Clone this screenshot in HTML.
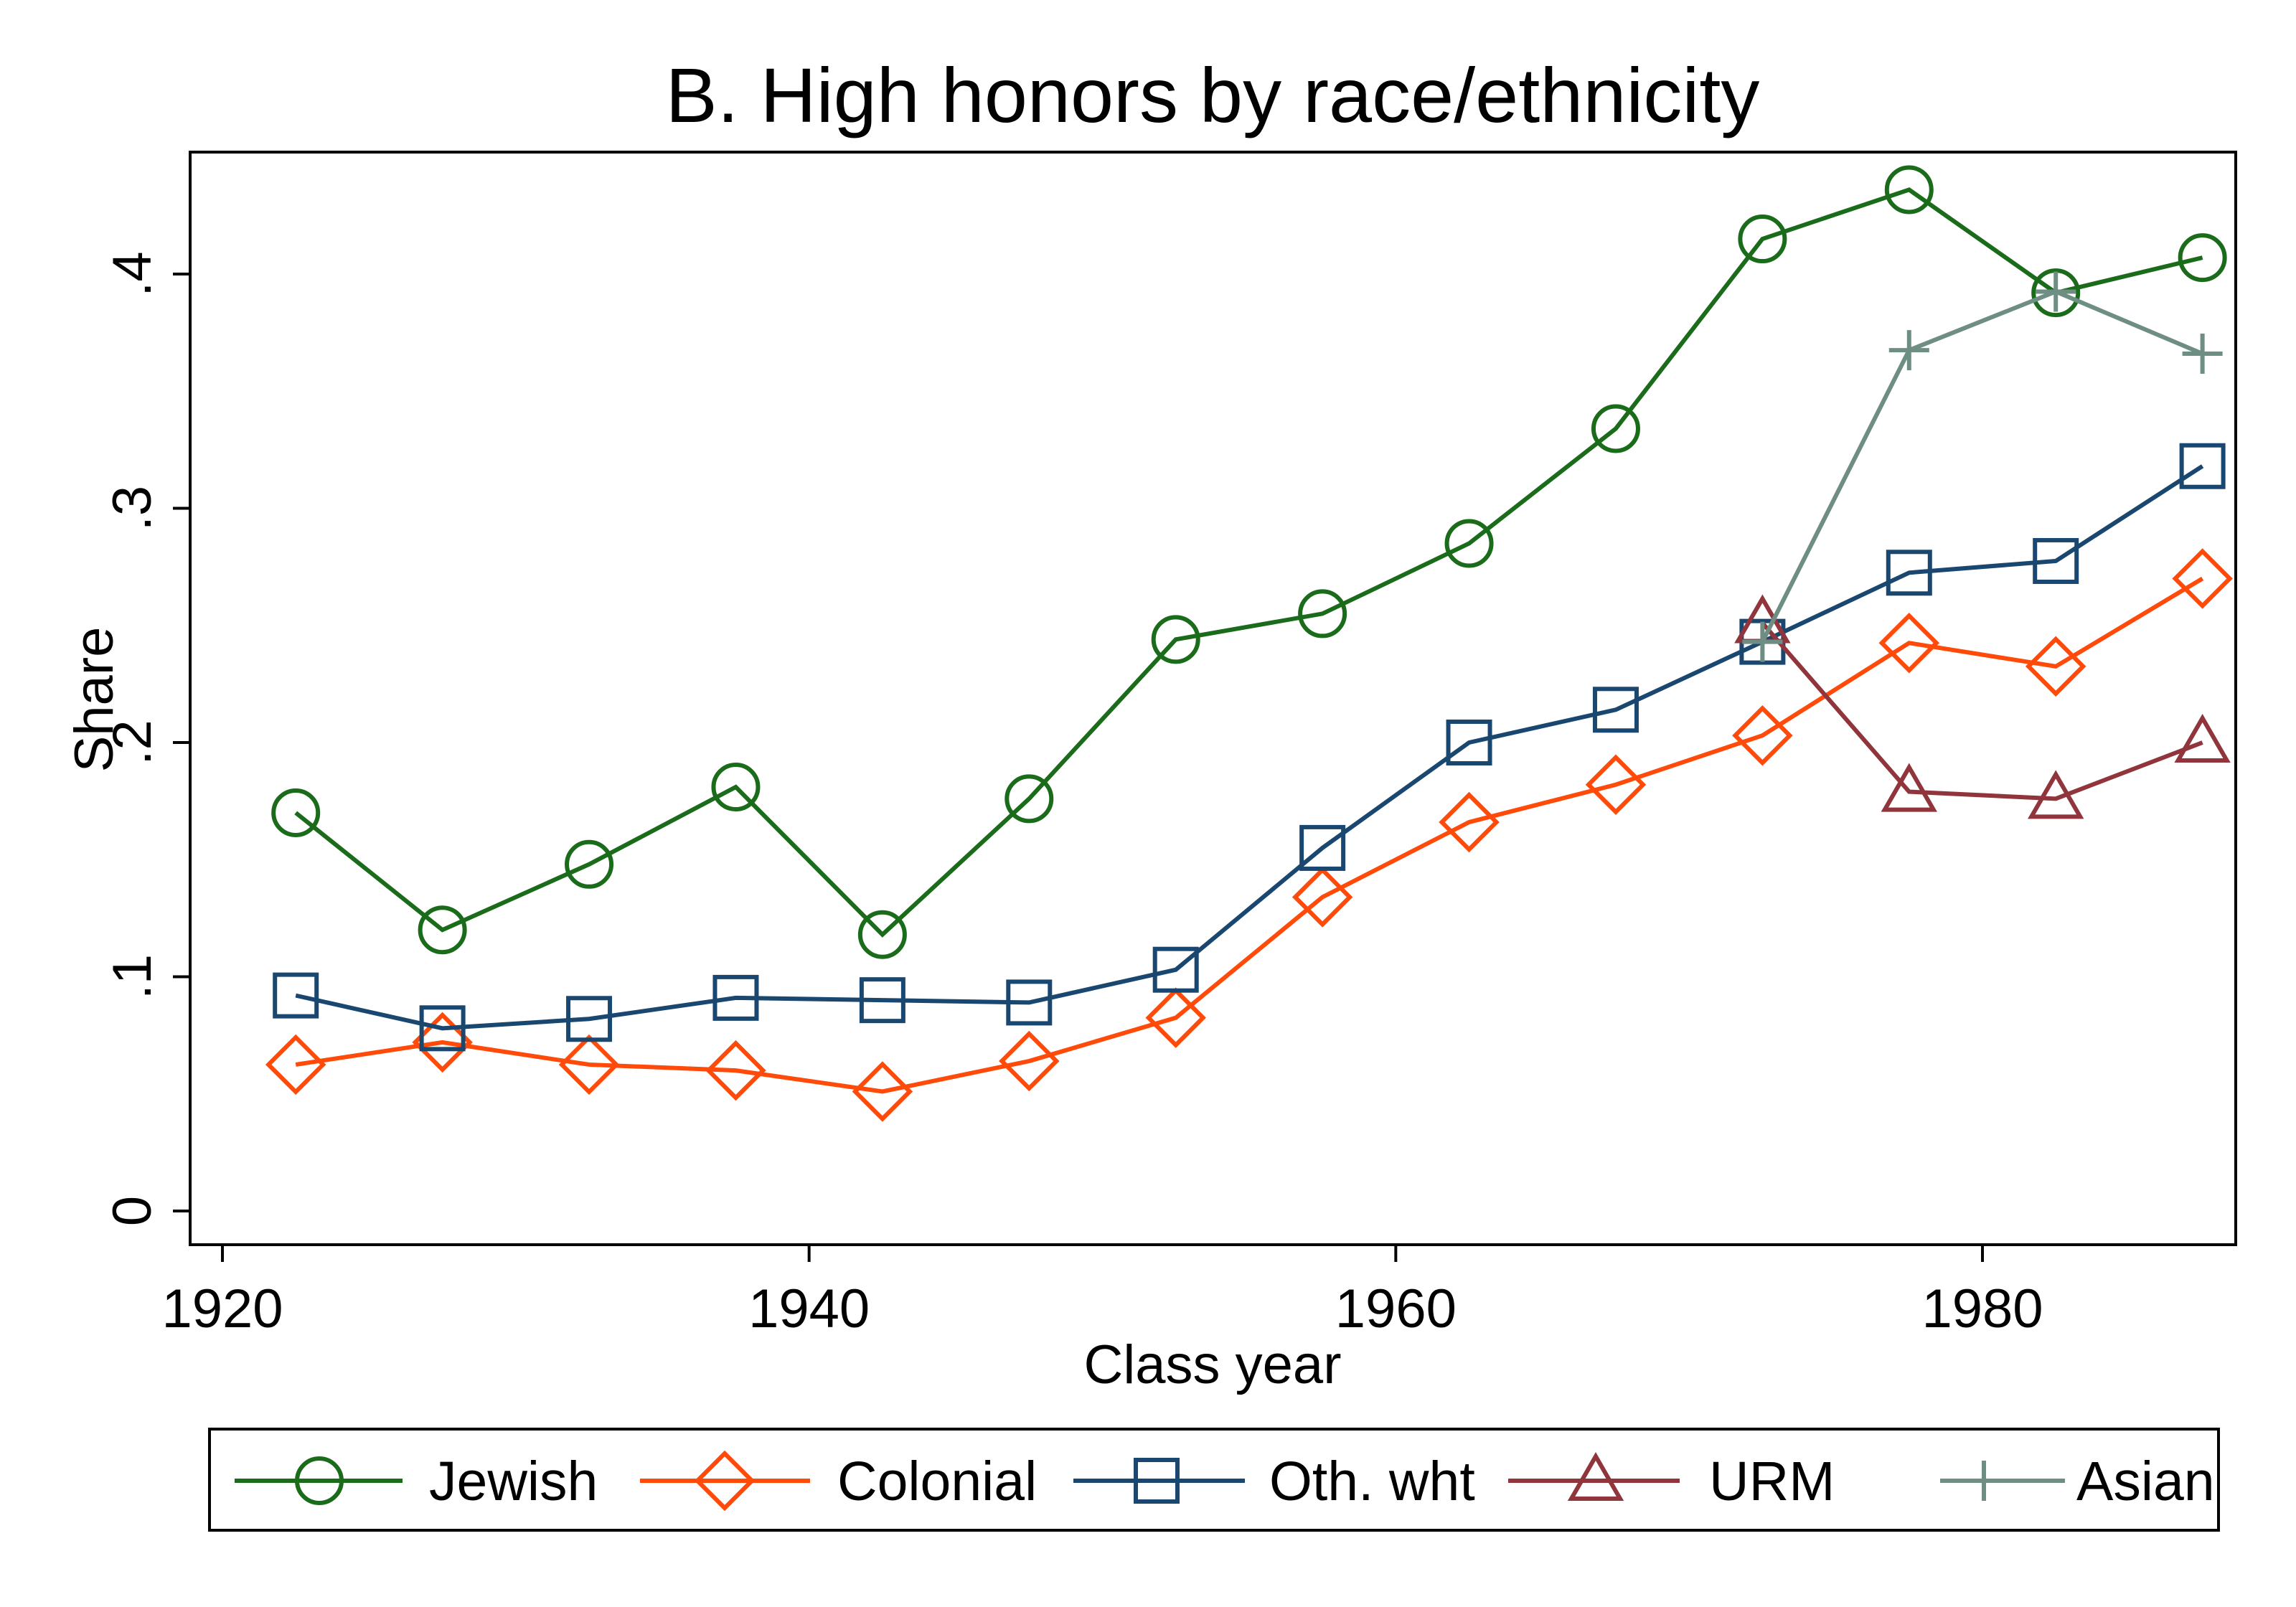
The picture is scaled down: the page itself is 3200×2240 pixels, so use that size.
<!DOCTYPE html>
<html><head><meta charset="utf-8">
<style>html,body{margin:0;padding:0;background:#fff}svg{display:block;font-family:"Liberation Sans",Arial,sans-serif}</style>
</head><body>
<svg id="chart" width="3200" height="2240" viewBox="0 0 3200 2240">
<rect width="3200" height="2240" fill="#fff"/>
<text x="1690" y="170" font-size="108" text-anchor="middle">B. High honors by race/ethnicity</text>
<rect x="265" y="212" width="2851" height="1523" fill="none" stroke="#000" stroke-width="4"/>
<g id="axes"></g>
<g id="series"></g>
<text x="1690" y="1928" font-size="76" text-anchor="middle">Class year</text>
<text transform="translate(157,975) rotate(-90)" font-size="76" text-anchor="middle">Share</text>
<rect x="292" y="1992" width="2800" height="141" fill="none" stroke="#000" stroke-width="4"/>
<g id="legend"></g>
</svg>
<script>
const years=[1922.5,1927.5,1932.5,1937.5,1942.5,1947.5,1952.5,1957.5,1962.5,1967.5,1972.5,1977.5,1982.5,1987.5];
const jewish=[.170,.120,.148,.181,.118,.176,.244,.255,.285,.334,.415,.436,.392,.407];
const colonial=[.0625,.072,.0625,.060,.051,.064,.0825,.134,.166,.182,.203,.2425,.2325,.270];
const othwht=[.092,.078,.082,.091,.090,.089,.103,.155,.200,.214,.243,.2725,.2775,.318];
const urmYears=[1972.5,1977.5,1982.5,1987.5];
const urm=[.251,.179,.176,.200];
const asianYears=[1972.5,1977.5,1982.5,1987.5];
const asian=[.243,.3675,.3925,.366];
const xTicks=[1920,1940,1960,1980];
const yTicks=[0,.1,.2,.3,.4];
const yTickLabels=["0",".1",".2",".3",".4"];
const seriesNames=["Jewish","Colonial","Oth. wht","URM","Asian"];

const NS="http://www.w3.org/2000/svg";
function X(v){return 310+(v-1920)*(2763-310)/60;}
function Y(v){return 1688-v*(1688-382)/0.4;}
function mk(tag,attrs,parent){const e=document.createElementNS(NS,tag);for(const k in attrs)e.setAttribute(k,attrs[k]);parent.appendChild(e);return e;}
const axes=document.getElementById('axes');
xTicks.forEach(t=>{
  const l=mk('line',{x1:X(t),x2:X(t),y1:1735,y2:1759,stroke:'#000','stroke-width':4},axes);
  
  
  const tx=mk('text',{x:X(t),y:1850,'font-size':76,'text-anchor':'middle'},axes);tx.textContent=t;
  
  
});
yTicks.forEach((t,i)=>{
  const l=mk('line',{x1:241,x2:265,y1:Y(t),y2:Y(t),stroke:'#000','stroke-width':4},axes);
  
  
  const tx=mk('text',{transform:`translate(210,${Y(t)}) rotate(-90)`,'font-size':76,'text-anchor':'middle'},axes);tx.textContent=yTickLabels[i];
  
  
});
function marker(type,x,y,color,parent){
  const r=31;let e;
  if(type==='circle')e=mk('circle',{cx:x,cy:y,r:r,fill:'none',stroke:color,'stroke-width':6},parent);
  else if(type==='diamond')e=mk('polygon',{points:`${x},${y-38} ${x+38},${y} ${x},${y+38} ${x-38},${y}`,fill:'none',stroke:color,'stroke-width':6},parent);
  else if(type==='square')e=mk('rect',{x:x-29,y:y-29,width:58,height:58,fill:'none',stroke:color,'stroke-width':6},parent);
  else if(type==='triangle')e=mk('polygon',{points:`${x},${y-34} ${x+34},${y+25} ${x-34},${y+25}`,fill:'none',stroke:color,'stroke-width':6},parent);
  else e=mk('path',{d:`M${x-28},${y}H${x+28}M${x},${y-28}V${y+28}`,fill:'none',stroke:color,'stroke-width':6},parent);
  return e;
}
const sg=document.getElementById('series');
const defs=[[years,jewish,'#1a6b1a','circle','series-jewish'],[years,colonial,'#ff4a0a','diamond','series-colonial'],[years,othwht,'#1a476f','square','series-oth-wht'],[urmYears,urm,'#90353b','triangle','series-urm'],[asianYears,asian,'#6e8e84','plus','series-asian']];
defs.forEach(([xs,ys,c,m,n])=>{
  const g=mk('g',{},sg);
  
  
  const p=mk('polyline',{points:xs.map((x,i)=>X(x)+','+Y(ys[i])).join(' '),fill:'none',stroke:c,'stroke-width':6},g);
  
  
  xs.forEach((x,i)=>{const e=marker(m,X(x),Y(ys[i]),c,g);
    
    });
});
const lg=document.getElementById('legend');
const lx=[[327,561,445,598],[892,1129,1010,1167],[1496,1735,1612,1769],[2102,2341,2224,2382],[2704,2878,2765,2894]];
defs.forEach(([xs,ys,c,m,n],i)=>{
  const g=mk('g',{},lg);
  
  
  const [a,b,cx,tx]=lx[i];const y=2064;
  mk('line',{x1:a,x2:b,y1:y,y2:y,stroke:c,'stroke-width':6},g);
  marker(m,cx,y,c,g);
  const t=mk('text',{x:tx,y:2091,'font-size':77},g);t.textContent=seriesNames[i];
});
</script>
</body></html>
